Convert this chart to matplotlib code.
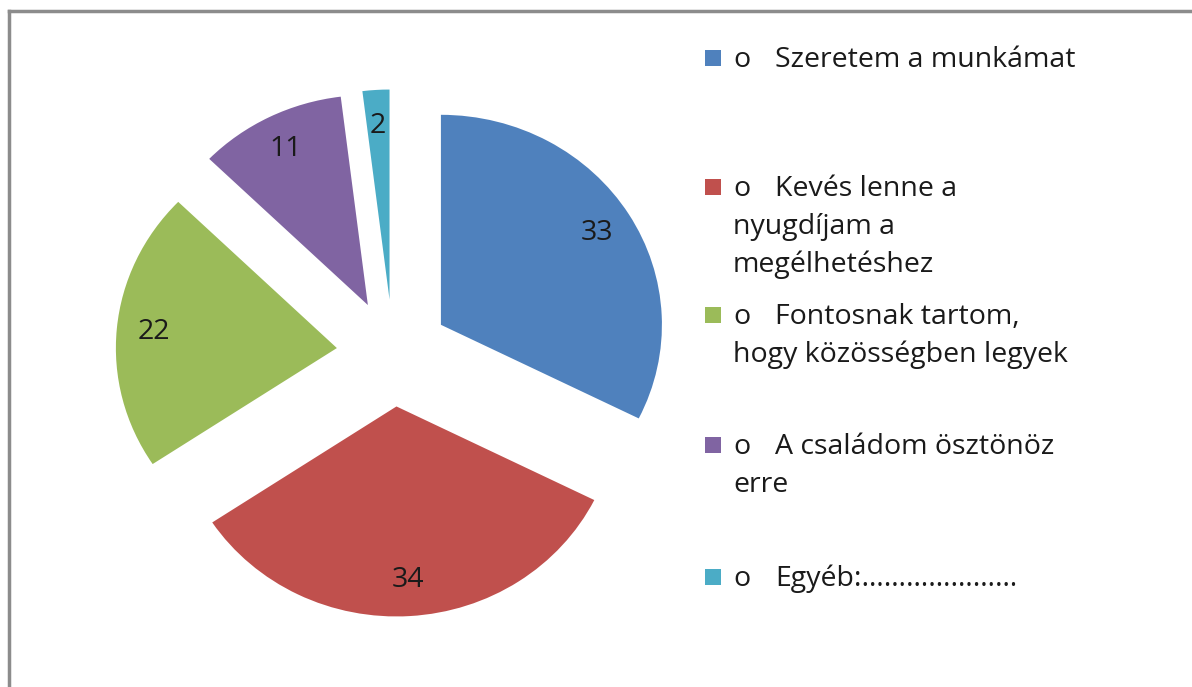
import matplotlib.pyplot as plt
from matplotlib.lines import Line2D
from matplotlib.patches import Rectangle

# survey answers (Hungarian)
labels = ['Szeretem a munkámat',
          'Kevés lenne a\nnyugdíjam a\nmegélhetéshez',
          'Fontosnak tartom,\nhogy közösségben legyek',
          'A családom ösztönöz\nerre',
          'Egyéb:…………………']
values = [33, 34, 22, 11, 2]
colors = ['#4F81BD', '#C0504D', '#9BBB59', '#8064A2', '#4BACC6']

W, H = 1192, 687
plt.rcParams['font.family'] = ['Open Sans', 'DejaVu Sans']
FS = 20.5

fig = plt.figure(figsize=(W / 100, H / 100), dpi=100)

# pie centre ~ (393, 353) px, radius ~221 px wide, ~210 px tall
L = 1.3
cx, cy, rx, ry = 393, 353, 221, 210
ax = fig.add_axes([(cx - L * rx) / W, (H - cy - L * ry) / H,
                   2 * L * rx / W, 2 * L * ry / H])
wedges, texts = ax.pie(values, colors=colors, startangle=90, counterclock=False,
                       explode=[0.255] * len(values),
                       labels=[str(v) for v in values], labeldistance=0.83,
                       wedgeprops=dict(linewidth=0))
for t in texts:
    t.set_ha('center')
    t.set_va('center')
    t.set_fontsize(FS)
    t.set_color('#1a1a1a')
ax.set_aspect('auto')
ax.set_xlim(-L, L)
ax.set_ylim(-L, L)
ax.axis('off')

# gray frame (only left/top visible in the crop)
fig.add_artist(Line2D([9 / W, 9 / W], [0, 1 - 11 / H], color='#8c8c8c', lw=2.5))
fig.add_artist(Line2D([9 / W, 1], [1 - 11 / H, 1 - 11 / H], color='#8c8c8c', lw=2.5))

# legend drawn by hand to keep Excel-like spacing
entry_y = [60, 189, 317, 447, 579]
line_h = 38
sq = 16
for lab, col, y in zip(labels, colors, entry_y):
    fig.add_artist(Rectangle((705 / W, 1 - (y - 2 + sq / 2) / H), sq / W, sq / H,
                             transform=fig.transFigure, color=col, lw=0))
    fig.text(733 / W, 1 - y / H, 'o', fontsize=FS, va='center', ha='left', color='#1a1a1a')
    lines = lab.split('\n')
    fig.text(775 / W, 1 - y / H, lines[0], fontsize=FS, va='center', ha='left', color='#1a1a1a')
    for i, ln in enumerate(lines[1:], start=1):
        fig.text(733 / W, 1 - (y + i * line_h) / H, ln, fontsize=FS, va='center',
                 ha='left', color='#1a1a1a')

fig.savefig('out.png', dpi=100)
